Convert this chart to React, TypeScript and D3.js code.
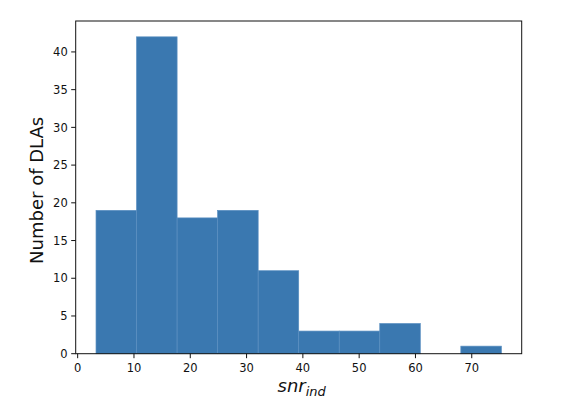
import React from "react";
import * as d3 from "d3";

const binEdges = [3.26, 10.46, 17.66, 24.86, 32.06, 39.26, 46.46, 53.66, 60.86, 68.06, 75.26];
const counts = [19, 42, 18, 19, 11, 3, 3, 4, 0, 1];
const xTicks = [0, 10, 20, 30, 40, 50, 60, 70];
const yTicks = [0, 5, 10, 15, 20, 25, 30, 35, 40];

const W = 571;
const H = 408;
const L = 75.7, R = 521.7, T = 21, B = 353.7;

export default function App() {
  const x = d3.scaleLinear().domain([-0.35, 78.87]).range([L, R]);
  const y = d3.scaleLinear().domain([0, 44.1]).range([B, T]);
  const font = "DejaVu Sans, sans-serif";
  return (
    <svg width={W} height={H} style={{ position: "absolute", left: 0, top: 0 }}>
      <rect width={W} height={H} fill="white" />
      {counts.map((c, i) =>
        c > 0 ? (
          <rect
            key={i}
            x={x(binEdges[i])}
            y={y(c)}
            width={x(binEdges[i + 1]) - x(binEdges[i])}
            height={y(0) - y(c)}
            fill="#3a78b0"
            stroke="#5a8fc0"
            strokeWidth={0.7}
          />
        ) : null
      )}
      <rect x={L} y={T} width={R - L} height={B - T} fill="none" stroke="#111" strokeWidth={1} />
      {xTicks.map((t) => (
        <g key={t} transform={`translate(${x(t)},${B})`}>
          <line y2={4.5} stroke="#111" />
          <text y={18.5} textAnchor="middle" fontSize={11.5} fontFamily={font} fill="#111">
            {t}
          </text>
        </g>
      ))}
      {yTicks.map((t) => (
        <g key={t} transform={`translate(${L},${y(t)})`}>
          <line x2={-4.5} stroke="#111" />
          <text x={-8} dy="0.36em" textAnchor="end" fontSize={11.5} fontFamily={font} fill="#111">
            {t}
          </text>
        </g>
      ))}
      <text
        transform={`translate(${43},${(T + B) / 2 + 3}) rotate(-90)`}
        textAnchor="middle"
        fontSize={18}
        fontFamily={font}
        fill="#111"
      >
        Number of DLAs
      </text>
      <text x={(L + R) / 2 + 3} y={392} textAnchor="middle" fontFamily={font} fill="#111" fontStyle="italic">
        <tspan fontSize={18}>snr</tspan>
        <tspan fontSize={13} dy={4}>ind</tspan>
      </text>
    </svg>
  );
}
